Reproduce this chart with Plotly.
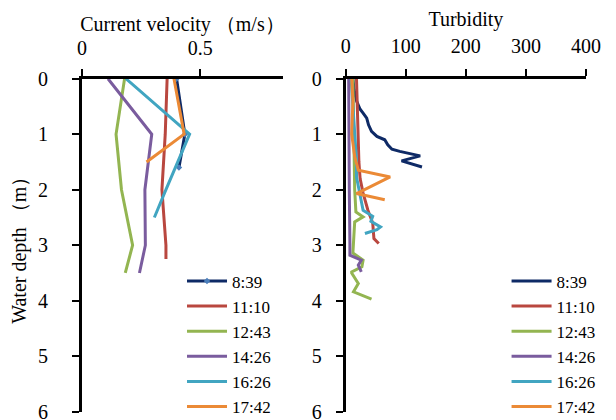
import plotly.graph_objects as go

times = ["8:39", "11:10", "12:43", "14:26", "16:26", "17:42"]
colors = ["#0E2A66", "#B9473F", "#93B551", "#7A5C9E", "#41A5C1", "#EB8A36"]

# Current velocity (m/s) vs water depth (m)
vel_depth = {
    "8:39": [0, 1.0, 1.6],
    "11:10": [0, 1, 2, 3, 3.25],
    "12:43": [0, 1, 2, 3, 3.5],
    "14:26": [0, 1, 2, 3, 3.5],
    "16:26": [0, 1, 2, 2.5],
    "17:42": [0, 1, 1.5],
}
vel_value = {
    "8:39": [0.40, 0.435, 0.41],
    "11:10": [0.36, 0.352, 0.338, 0.355, 0.355],
    "12:43": [0.18, 0.144, 0.167, 0.214, 0.183],
    "14:26": [0.11, 0.295, 0.266, 0.268, 0.243],
    "16:26": [0.186, 0.455, 0.355, 0.306],
    "17:42": [0.389, 0.432, 0.273],
}

# Turbidity vs water depth (m)
tur_depth = {
    "8:39": [0, 0.2, 0.4, 0.55, 0.62, 0.71, 0.83, 0.95, 1.04, 1.10, 1.19, 1.27, 1.31, 1.39, 1.48, 1.59],
    "11:10": [0, 0.5, 1.0, 1.5, 1.8, 2.06, 2.37, 2.6, 2.88, 2.97],
    "12:43": [0, 1, 2, 2.4, 2.49, 2.58, 2.85, 3.14, 3.27, 3.39, 3.48, 3.5, 3.69, 3.84, 3.97],
    "14:26": [0, 1, 2, 2.97, 3.18, 3.27, 3.36, 3.48],
    "16:26": [0, 0.5, 1.0, 1.47, 1.77, 2.13, 2.37, 2.48, 2.57, 2.67, 2.72, 2.79],
    "17:42": [0, 0.4, 1.0, 1.4, 1.65, 1.77, 2.07, 2.18],
}
tur_value = {
    "8:39": [12, 14, 18, 24, 29, 35, 38, 43, 52, 65, 70, 77, 90, 124, 93, 127],
    "11:10": [18, 19, 20, 22, 24, 29, 37, 45, 47, 55],
    "12:43": [12, 13, 15, 17, 29, 15, 13, 12, 29, 27, 10, 10, 21, 13, 43],
    "14:26": [5, 5, 6, 7, 7, 26, 21, 26],
    "16:26": [9, 12, 16, 18, 18, 24, 29, 45, 42, 58, 52, 32],
    "17:42": [10, 12, 10, 15, 21, 74, 18, 65],
}

vel_ticks = [0, 0.5]
vel_ticktext = ["0", "0.5"]
tur_ticks = [0, 100, 200, 300, 400]
depth_ticks = [0, 1, 2, 3, 4, 5, 6]

FONT = "Liberation Serif"

fig = go.Figure()
for t, c in zip(times, colors):
    fig.add_trace(go.Scatter(
        x=vel_value[t], y=vel_depth[t], name=t, mode="lines+markers" if t == "8:39" else "lines",
        line=dict(color=c, width=3),
        marker=dict(color="#4A7EBB", size=5, symbol="diamond") if t == "8:39" else None,
        xaxis="x", yaxis="y", legend="legend",
    ))
for t, c in zip(times, colors):
    fig.add_trace(go.Scatter(
        x=tur_value[t], y=tur_depth[t], name=t, mode="lines",
        line=dict(color=c, width=3),
        xaxis="x2", yaxis="y2", legend="legend2",
    ))

axis_common = dict(
    showgrid=False, zeroline=False, showline=True, linecolor="black", linewidth=3,
    ticks="outside", ticklen=7, tickwidth=2, tickcolor="black", automargin=False,
    ticklabeloverflow="allow",
    tickfont=dict(family=FONT, size=20, color="black"),
)

fig.update_layout(
    width=608, height=412,
    margin=dict(l=0, r=0, t=0, b=0, autoexpand=False),
    paper_bgcolor="white", plot_bgcolor="white",
    font=dict(family=FONT, size=20, color="black"),
    xaxis=dict(domain=[0.1217, 0.4523], range=[0, 0.85], side="top", anchor="y",
               tickvals=vel_ticks, ticktext=vel_ticktext, ticklabelstandoff=6,
               title=dict(text="Current velocity （m/s）", font=dict(family=FONT, size=20), standoff=0),
               **axis_common),
    yaxis=dict(domain=[0.0201, 0.8284], range=[6, 0], anchor="x",
               tickvals=depth_ticks, ticklabelstandoff=20,
               title=dict(text="Water depth （m）", font=dict(family=FONT, size=20), standoff=14),
               **axis_common),
    xaxis2=dict(domain=[0.5554, 0.9507], range=[0, 400], side="top", anchor="y2",
                tickvals=tur_ticks, ticklabelstandoff=8,
                title=dict(text="Turbidity", font=dict(family=FONT, size=20), standoff=10),
                **axis_common),
    yaxis2=dict(domain=[0.0201, 0.8284], range=[6, 0], anchor="x2",
                tickvals=depth_ticks, ticklabelstandoff=10,
                **axis_common),
    legend=dict(x=0.2862, y=0.380, xanchor="left", yanchor="top", bgcolor="rgba(0,0,0,0)",
                font=dict(family=FONT, size=17, color="black"), itemwidth=40, tracegroupgap=0),
    legend2=dict(x=0.820, y=0.380, xanchor="left", yanchor="top", bgcolor="rgba(0,0,0,0)",
                 font=dict(family=FONT, size=17, color="black"), itemwidth=40, tracegroupgap=0),
    showlegend=True,
)

fig.write_html("out.html")
